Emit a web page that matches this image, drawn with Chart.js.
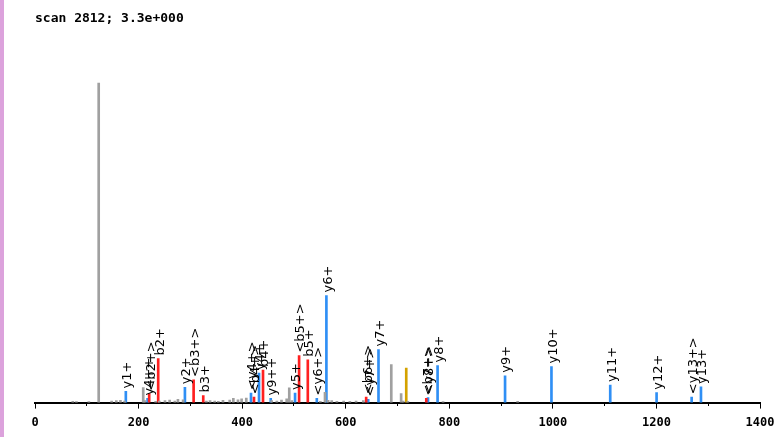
<!DOCTYPE html>
<html>
<head>
<meta charset="utf-8">
<script src="https://cdn.jsdelivr.net/npm/chart.js@4"></script>
<style>
  html, body { margin: 0; padding: 0; background: #fff; }
  #wrap { position: relative; width: 778px; height: 437px; }
  #strip { position: absolute; left: 0; top: 0; width: 4px; height: 437px; background: #dca2dc; }
</style>
</head>
<body>
<div id="wrap">
  <canvas id="spectrum"></canvas>
  <div id="strip"></div>
</div>
<script>
// spectrum peaks (m/z, relative intensity %)
const grayMz  = [73, 80, 104, 123, 148, 157, 165, 173, 209, 212, 233, 240, 251, 260, 270, 276, 286,
                 331, 338, 347, 354, 363, 376, 383, 392, 399, 408, 457, 467, 476, 486, 491, 496,
                 551, 560, 566, 573, 583, 596, 608, 620, 634, 688, 707, 711, 720, 788, 932]
const grayInt = [0.4, 0.3, 0.3, 100, 0.5, 0.6, 0.7, 0.5, 4.7, 0.6, 0.4, 0.5, 0.6, 0.8, 0.5, 1.0, 0.9,
                 0.5, 0.6, 0.5, 0.4, 0.7, 0.8, 1.3, 0.9, 1.2, 1.4, 0.6, 0.5, 0.8, 1.2, 4.6, 0.6,
                 0.4, 3.2, 0.7, 0.6, 0.4, 0.5, 0.4, 0.5, 0.6, 11.9, 2.8, 0.5, 0.4, 0.3, 0.4]

const yIonMz     = [175.4, 217.4, 289.5, 417.1, 432.6, 455.2, 502.2, 544.2, 562.7, 643.4, 663.3,
                    758.9, 777.4, 907.7, 997.3, 1110.8, 1200.3, 1268, 1286]
const yIonInt    = [3.5, 1.3, 4.8, 3.0, 9.2, 1.3, 3.0, 1.3, 33.5, 1.0, 16.6,
                    1.6, 11.6, 8.4, 11.3, 5.5, 3.1, 1.7, 4.9]
const yIonLabels = ['y1+', 'y4++', 'y2+', '<y4+>', 'y4+', 'y9++', 'y5+', '<y6+>', 'y6+', '<y7+>', 'y7+',
                    '<y8+>', 'y8+', 'y9+', 'y10+', 'y11+', 'y12+', '<y13+>', 'y13+']

const bIonMz     = [220.5, 237.9, 306.3, 324.9, 422.9, 440.3, 510, 526.8, 639.5, 755.6]
const bIonInt    = [2.8, 13.8, 7.1, 2.2, 1.7, 10.2, 14.7, 13.4, 1.7, 1.3]
const bIonLabels = ['<b2+>', 'b2+', '<b3+>', 'b3+', '<b4+>', 'b4+', '<b5+>', 'b5+', '<b6+>', '<b7+>']

const precMz  = [716.9]
const precInt = [10.8]

const xTicks = [0, 200, 400, 600, 800, 1000, 1200, 1400]

const toPoints = (xs, ys) => xs.map((x, i) => ({ x: x, y: ys[i] }))

// Draws the rotated ion labels above their peaks
const peakLabels = {
    id: 'peakLabels',
    afterDatasetsDraw(chart) {
        const ctx = chart.ctx
        const xs = chart.scales.x
        const ys = chart.scales.y
        const sets = [[yIonMz, yIonInt, yIonLabels], [bIonMz, bIonInt, bIonLabels]]
        ctx.save()
        ctx.fillStyle = '#000'
        ctx.font = '13px "DejaVu Sans"'
        ctx.textAlign = 'left'
        ctx.textBaseline = 'middle'
        sets.forEach(([mz, inten, labels]) => {
            mz.forEach((m, i) => {
                const px = xs.getPixelForValue(m)
                const py = ys.getPixelForValue(inten[i])
                ctx.save()
                ctx.translate(px + 2, py - 3)
                ctx.rotate(-Math.PI / 2)
                ctx.fillText(labels[i], 0, 0)
                ctx.restore()
            })
        })
        ctx.restore()
    }
}

const barStyle = { barThickness: 2, grouped: false, borderWidth: 0 }

new Chart(document.getElementById('spectrum'), {
    type: 'bar',
    data: {
        datasets: [
            { ...barStyle, label: 'other', data: toPoints(grayMz, grayInt), backgroundColor: '#a0a0a0' },
            { ...barStyle, label: 'precursor', data: toPoints(precMz, precInt), backgroundColor: '#d4a200' },
            { ...barStyle, label: 'b ions', data: toPoints(bIonMz, bIonInt), backgroundColor: '#ff2020' },
            { ...barStyle, label: 'y ions', data: toPoints(yIonMz, yIonInt), backgroundColor: '#2f8ff5' }
        ]
    },
    options: {
        responsive: true,
        maintainAspectRatio: false,
        animation: false,
        layout: { padding: { left: 35, right: 18, top: 0, bottom: 0 } },
        plugins: {
            legend: { display: false },
            tooltip: { enabled: false },
            title: {
                display: true,
                text: 'scan 2812; 3.3e+000',
                align: 'start',
                color: '#000',
                font: { family: '"DejaVu Sans Mono"', size: 13, weight: 'bold' },
                padding: { top: 11, bottom: 18 }
            }
        },
        scales: {
            x: {
                type: 'linear',
                min: 0,
                max: 1400,
                offset: false,
                grid: { drawOnChartArea: false, offset: false, tickLength: 6, tickColor: '#000', tickWidth: 1 },
                border: { display: true, color: '#000', width: 2 },
                afterBuildTicks: (axis) => { axis.ticks = xTicks.map(v => ({ value: v })) },
                // let the last tick label hang into the right margin
                afterFit: (axis) => { axis.paddingRight = 0; axis.paddingLeft = 0 },
                ticks: {
                    color: '#000',
                    padding: 7,
                    maxRotation: 0,
                    autoSkip: false,
                    callback: (v) => String(v),
                    font: { family: '"DejaVu Sans Mono"', size: 12, weight: 'bold' }
                }
            },
            xMinor: {
                type: 'linear',
                axis: 'x',
                position: { y: 0 },
                min: 0,
                max: 1400,
                offset: false,
                grid: { drawOnChartArea: false, offset: false, tickLength: 3, tickColor: '#000', tickWidth: 1 },
                border: { display: false },
                ticks: { display: false, stepSize: 100, autoSkip: false }
            },
            y: {
                display: false,
                min: 0,
                max: 112
            }
        }
    },
    plugins: [peakLabels]
})
</script>
</body>
</html>
